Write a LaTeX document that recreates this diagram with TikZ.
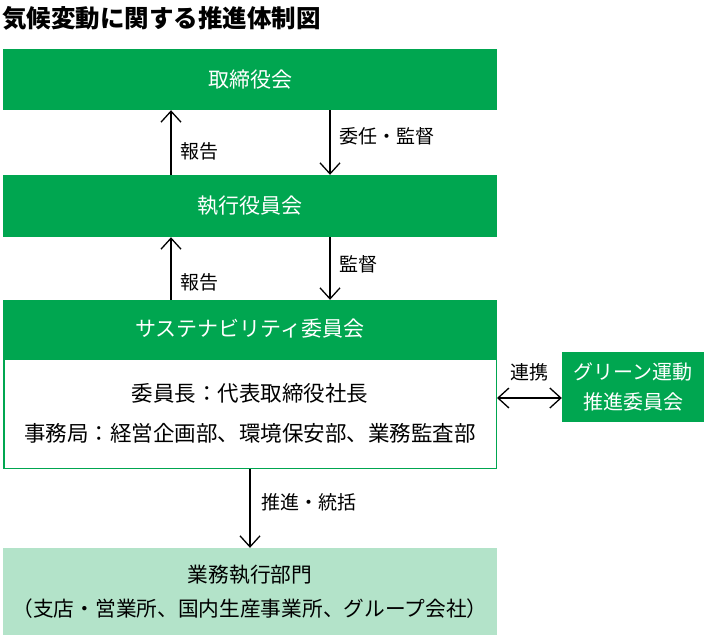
\documentclass[tikz,border=0pt]{standalone}
\usepackage{fontspec}
\setmainfont{Noto Sans CJK JP}
\usetikzlibrary{arrows.meta,positioning}
\definecolor{boxgreen}{RGB}{0,166,80}
\definecolor{lightgreen}{RGB}{179,227,201}
\tikzstyle{block} = [fill=boxgreen, rectangle, text=white,
    minimum width=494pt, inner sep=0pt, font=\fontsize{21}{25}\selectfont]
\tikzstyle{panel} = [draw=boxgreen, line width=1.5pt, fill=white, rectangle,
    minimum width=492.5pt, inner sep=0pt, align=center, font=\fontsize{21.5}{40}\selectfont]
\tikzstyle{label} = [font=\fontsize{19}{22}\selectfont, inner sep=2pt, xshift=7pt]
\tikzstyle{link} = [-{Straight Barb[length=11pt,width=20pt]}, line width=1.3pt]
\tikzstyle{both} = [{Straight Barb[length=11pt,width=20pt]}-{Straight Barb[length=11pt,width=20pt]}, line width=1.3pt]

\begin{document}
\begin{tikzpicture}[x=1pt, y=-1pt]
\useasboundingbox (0,0) rectangle (711,640);
% Nodes
	\node [anchor=west, inner sep=0pt, font=\fontsize{24.5}{28}\selectfont\bfseries] (title) at (2,18) {気候変動に関する推進体制図};
	\node [block, minimum height=61pt] (board) at (250,79.5) {取締役会};
	\node [block, minimum height=62pt, below of=board, node distance=126.5pt] (exec) {執行役員会};
	\node [panel, minimum height=109.5pt, below of=exec, node distance=207.5pt] (body)
		{委員長：代表取締役社長\\事務局：経営企画部、環境保安部、業務監査部};
	\node [block, minimum height=58pt, below of=exec, node distance=123pt] (sust) {サステナビリティ委員会};
	\node [block, minimum width=142pt, minimum height=70pt, align=center,
		font=\fontsize{20}{30}\selectfont] (green) at (633,386.5) {グリーン運動\\推進委員会};
	\node [rectangle, fill=lightgreen, minimum width=494pt, minimum height=87pt, inner sep=0pt,
		align=center, font=\fontsize{20.7}{34}\selectfont, below of=body, node distance=178pt] (ops)
		{業務執行部門\\（支店・営業所、国内生産事業所、グループ会社）};
% Connections
	\draw [link] ([xshift=-79pt]exec.north) -- node[label, right, pos=0.37] {報告} ([xshift=-79pt]board.south);
	\draw [link] ([xshift=80pt]board.south) -- node[label, right, pos=0.4] {委任・監督} ([xshift=80pt]exec.north);
	\draw [link] ([xshift=-79pt]sust.north) -- node[label, right, pos=0.28] {報告} ([xshift=-79pt]exec.south);
	\draw [link] ([xshift=80pt]exec.south) -- node[label, right, pos=0.44] {監督} ([xshift=80pt]sust.north);
	\draw [link] (body.south) -- node[label, right, pos=0.42, xshift=2pt] {推進・統括} (ops.north);
	\draw [both] (body.east |- 0,398) -- node[label, above, xshift=-7pt, yshift=14pt] {連携} (green.west |- 0,398);
\end{tikzpicture}
\end{document}
